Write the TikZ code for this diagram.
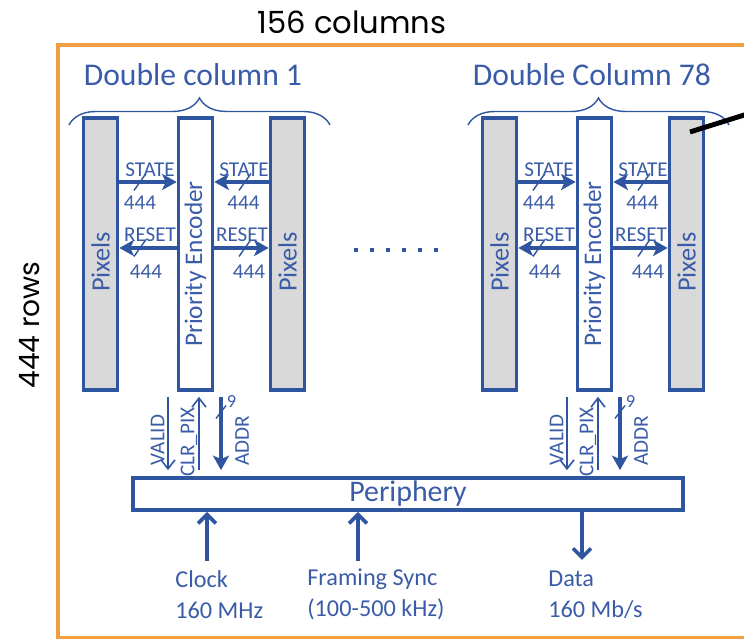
\documentclass[tikz,border=0pt]{standalone}
\usepackage{fontspec}
\setmainfont{Carlito}
\newfontfamily\gothic{Poppins}
\usetikzlibrary{arrows.meta,positioning,decorations.pathreplacing,calc}
\definecolor{ChipBlue}{HTML}{2F55A0}
\definecolor{LabelBlue}{HTML}{3A5CA8}
\definecolor{FrameOrange}{HTML}{F0A040}
\definecolor{PixGray}{HTML}{D9D9D9}
\tikzset{
  pixel col/.style={draw=ChipBlue,fill=PixGray,line width=2.1pt,minimum width=6.8mm,
    minimum height=54.4mm,inner sep=0pt},
  encoder col/.style={pixel col,fill=white},
  bus arrow/.style={-{Stealth[length=2.9mm,width=3.2mm,inset=0.7mm]},draw=ChipBlue,line width=2.1pt},
  io arrow/.style={-{Straight Barb[length=1.8mm,width=3.6mm]},draw=ChipBlue,line width=2.1pt},
  ctrl arrow/.style={-{Straight Barb[length=1.8mm,width=2.8mm]},draw=ChipBlue,line width=0.9pt},
  width slash/.style={draw=ChipBlue,line width=0.8pt},
  sig label/.style={text=LabelBlue,font=\fontsize{12}{13}\selectfont,inner sep=0pt},
  col label/.style={text=LabelBlue,font=\fontsize{15}{17}\selectfont,rotate=90,inner sep=0pt},
  io label/.style={text=LabelBlue,font=\fontsize{13.8}{17.6}\selectfont,align=left,anchor=west,inner sep=0pt}
}

\begin{document}
\begin{tikzpicture}
  \useasboundingbox (0,0) rectangle (14.88,12.8);
  \node[font=\gothic\fontsize{17.4}{19}\selectfont] (ncols) at (7.04,12.36) {156 columns};
  \node[font=\gothic\fontsize{16}{18}\selectfont,rotate=90] (nrows) at (0.6,6.3) {444 rows};
  \draw[draw=FrameOrange,line width=2pt] (14.95,11.9) -- (1.16,11.9) -- (1.16,0.05) -- (14.95,0.05);

  \node[draw=ChipBlue,line width=2.1pt,minimum width=110mm,minimum height=6.4mm,inner sep=0pt,
    text=LabelBlue,font=\fontsize{17}{19}\selectfont] (periph) at (8.16,2.92) {Periphery};

  % the two double columns drawn
  \foreach \dx/\c/\title in {0/a/Double column 1,7.98/b/Double Column 78}{
    \begin{scope}[xshift=\dx cm]
      \node[text=LabelBlue,font=\fontsize{18}{20}\selectfont] (title\c) at (3.86,11.3) {\title};
      \draw[decorate,decoration={brace,amplitude=5.4mm},draw=ChipBlue,line width=0.8pt] (1.38,10.3) -- (6.6,10.3);
      \node[pixel col] (pixl\c) at (2.01,7.72) {};
      \node[encoder col] (enc\c) at (3.91,7.72) {};
      \node[pixel col] (pixr\c) at (5.75,7.72) {};
      \node[col label] (pxtl\c) at (2.01,7.56) {Pixels};
      \node[col label,font=\fontsize{14.4}{16}\selectfont] (enct\c) at (3.91,7.52) {Priority Encoder};
      \node[col label] (pxtr\c) at (5.75,7.56) {Pixels};
      % state and reset buses
      \draw[bus arrow] ([yshift=14.4mm]pixl\c.east) -- ([yshift=14.4mm]enc\c.west);
      \draw[bus arrow] ([yshift=14.4mm]pixr\c.west) -- ([yshift=14.4mm]enc\c.east);
      \draw[bus arrow] ([yshift=1.2mm]enc\c.west) -- ([yshift=1.2mm]pixl\c.east);
      \draw[bus arrow] ([yshift=1.2mm]enc\c.east) -- ([yshift=1.2mm]pixr\c.west);
      \foreach \y in {9.16,7.84}{
        \draw[width slash] (2.8,\y) ++(-0.12,-0.17) -- ++(0.24,0.34);
        \draw[width slash] (4.9,\y) ++(-0.12,-0.17) -- ++(0.24,0.34);
      }
      \node[sig label] (stl\c) at (3.0,9.4) {STATE};
      \node[sig label] (str\c) at (4.88,9.4) {STATE};
      \node[sig label] (stnl\c) at (2.8,8.74) {444};
      \node[sig label] (stnr\c) at (4.87,8.74) {444};
      \node[sig label] (rsl\c) at (3.0,8.1) {RESET};
      \node[sig label] (rsr\c) at (4.84,8.1) {RESET};
      \node[sig label] (rsnl\c) at (2.92,7.36) {444};
      \node[sig label] (rsnr\c) at (4.98,7.36) {444};
      % links to the periphery
      \draw[ctrl arrow] ($(enc\c.south)+(-0.55,-0.1)$) -- ($(enc\c.south |- periph.north)+(-0.55,0.12)$);
      \draw[ctrl arrow] ($(enc\c.south |- periph.north)+(0.07,0.12)$) -- ($(enc\c.south)+(0.07,-0.1)$);
      \draw[bus arrow] ($(enc\c.south)+(0.51,-0.1)$) -- ($(enc\c.south |- periph.north)+(0.51,0.12)$);
      \draw[width slash] (4.42,4.56) ++(-0.1,-0.13) -- ++(0.2,0.26);
      \node[sig label,font=\fontsize{10.5}{11}\selectfont] (nine\c) at (4.63,4.76) {9};
      \node[sig label,rotate=90] (valid\c) at (3.15,4.0) {VALID};
      \node[sig label,rotate=90] (clr\c) at (3.78,3.96) {CLR\_PIX};
      \node[sig label,rotate=90] (addr\c) at (4.84,3.98) {ADDR};
    \end{scope}
  }

  \foreach \i in {0,...,5}
    \fill[ChipBlue] ({7.12+0.32*\i},7.8) +(-0.045,-0.045) rectangle +(0.045,0.045);

  \coordinate (ptrin) at (13.8,10.16);
  \coordinate (ptrout) at (14.95,10.52);
  \draw[line width=2.8pt] (ptrin) -- (ptrout);

  % periphery inputs and output
  \coordinate (clk) at (4.14,1.58);
  \coordinate (sync) at (7.16,1.58);
  \coordinate (data) at (11.64,1.6);
  \draw[io arrow] (clk) -- (clk |- periph.south);
  \draw[io arrow] (sync) -- (sync |- periph.south);
  \draw[io arrow] (data |- periph.south) -- (data);
  \node[io label] (clklbl) at (3.5,0.91) {Clock\\160 MHz};
  \node[io label] (synclbl) at (6.14,0.91) {Framing Sync\\(100-500 kHz)};
  \node[io label] (datalbl) at (10.96,0.91) {Data\\160 Mb/s};
\end{tikzpicture}
\end{document}
